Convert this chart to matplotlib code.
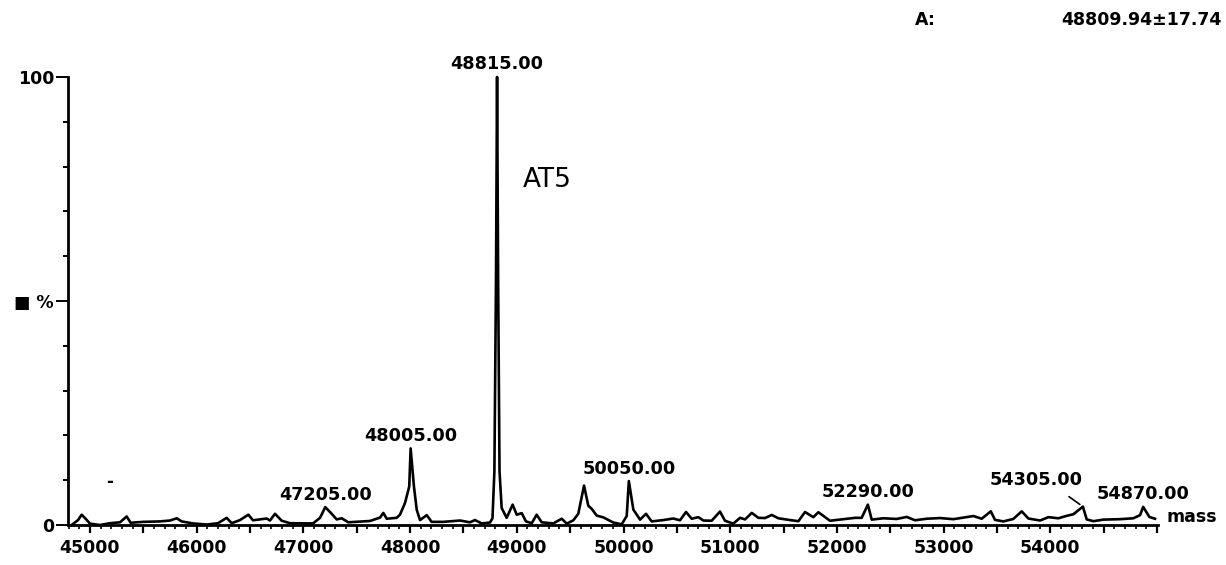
import matplotlib
matplotlib.use("Agg")
import matplotlib.pyplot as plt
from matplotlib.ticker import MultipleLocator, FuncFormatter

# Deconvoluted mass spectrum trace (mass in Da, relative intensity in %)
mass = [
    44828, 44888, 44922, 44963, 45000, 45094, 45187, 45281, 45344, 45381,
    45497, 45656, 45750, 45813, 45859, 45965, 46094, 46200, 46281, 46328,
    46406, 46484, 46528, 46593, 46656, 46687, 46734, 46797, 46874, 47090,
    47156, 47205, 47265, 47312, 47359, 47421, 47530, 47624, 47718, 47749,
    47781, 47874, 47905, 47952, 47992, 48005, 48036, 48062, 48093, 48156,
    48202, 48311, 48468, 48561, 48608, 48671, 48749, 48772, 48790, 48805,
    48815, 48825, 48838, 48858, 48905, 48961, 48999, 49046, 49086, 49140,
    49186, 49233, 49342, 49421, 49468, 49530, 49576, 49630, 49670, 49702,
    49749, 49811, 49904, 49983, 50030, 50050, 50092, 50155, 50211, 50264,
    50373, 50467, 50529, 50586, 50639, 50701, 50748, 50826, 50904, 50951,
    51029, 51092, 51139, 51202, 51264, 51327, 51389, 51451, 51561, 51639,
    51701, 51779, 51826, 51935, 52060, 52170, 52232, 52290, 52326, 52435,
    52560, 52654, 52732, 52841, 52966, 53091, 53185, 53279, 53357, 53442,
    53481, 53560, 53653, 53732, 53794, 53904, 53982, 54075, 54154, 54216,
    54305, 54341, 54403, 54497, 54653, 54778, 54841, 54870, 54928, 54981,
]
intensity = [
    0.0, 1.1, 2.3, 1.3, 0.3, 0.0, 0.4, 0.6, 1.9, 0.5,
    0.7, 0.8, 1.0, 1.5, 0.8, 0.35, 0.1, 0.4, 1.6, 0.4,
    1.1, 2.3, 1.05, 1.25, 1.45, 1.0, 2.5, 0.95, 0.4, 0.35,
    1.6, 4.0, 2.5, 1.25, 1.5, 0.6, 0.75, 0.9, 1.65, 2.7,
    1.4, 1.6, 2.3, 4.9, 8.6, 17.1, 8.6, 3.4, 1.1, 2.2,
    0.7, 0.7, 1.0, 0.6, 1.1, 0.35, 0.55, 1.5, 12.0, 55.0,
    100.0, 55.0, 12.0, 3.8, 1.6, 4.55, 2.3, 2.65, 0.8, 0.4,
    2.3, 0.6, 0.35, 1.4, 0.3, 1.05, 2.5, 8.8, 4.3, 3.6,
    2.1, 1.7, 0.55, 0.15, 2.0, 9.8, 3.45, 1.2, 2.5, 0.8,
    1.1, 1.45, 1.05, 2.9, 1.4, 1.75, 1.0, 0.95, 3.0, 0.95,
    0.3, 1.6, 1.25, 2.7, 1.6, 1.55, 2.25, 1.5, 1.1, 0.85,
    2.9, 1.75, 2.85, 0.95, 1.3, 1.6, 1.6, 4.55, 1.2, 1.5,
    1.35, 1.8, 1.05, 1.4, 1.55, 1.3, 1.65, 2.0, 1.4, 3.05,
    1.15, 0.8, 1.35, 3.05, 1.45, 1.0, 1.75, 1.5, 2.05, 2.4,
    4.1, 1.25, 0.85, 1.2, 1.3, 1.5, 2.2, 4.05, 1.8, 1.4,
]

# Labelled peaks: (mass, label offset in points)
peak_mass = [47205, 48005, 48815, 50050, 52290, 54870]
peak_labels = ["47205.00", "48005.00", "48815.00", "50050.00", "52290.00", "54870.00"]
leader_mass = 54305
leader_label = "54305.00"

x_major = [45000, 46000, 47000, 48000, 49000, 50000, 51000, 52000, 53000, 54000]
y_ticklabels = {0: "0", 50: "\u25a0 %", 100: "100"}

title_left = "A:"
title_right = "48809.94\u00b117.74"
sample_name = "AT5"

W, H = 1226, 565
fig = plt.figure(figsize=(W / 100, H / 100), dpi=100)
fig.patch.set_facecolor("white")

L, R, B, T = 68, 1158, 525, 77
ax = fig.add_axes([L / W, 1 - B / H, (R - L) / W, (B - T) / H])
ax.set_xlim(44794, 55009)
ax.set_ylim(0, 100)

ax.plot(mass, intensity, color="black", lw=1.9, solid_joinstyle="round",
        clip_on=False, zorder=3)

for s in ("top", "right"):
    ax.spines[s].set_visible(False)
for s in ("left", "bottom"):
    ax.spines[s].set_linewidth(2.0)
    ax.spines[s].set_color("black")

bold = dict(family="DejaVu Sans", weight="bold")

# x axis: labels every 1000, long ticks every 500, short ticks every 100
ax.xaxis.set_major_locator(MultipleLocator(500))
ax.xaxis.set_minor_locator(MultipleLocator(100))
ax.xaxis.set_major_formatter(
    FuncFormatter(lambda v, p: f"{int(round(v))}" if int(round(v)) in x_major else ""))
ax.tick_params(axis="x", which="major", direction="out", length=6, width=1.6,
               pad=4, labelsize=12.5)
ax.tick_params(axis="x", which="minor", direction="out", length=3, width=1.2)

# y axis: 0, % and 100 labels with short ticks every 10
ax.set_yticks(list(y_ticklabels.keys()))
ax.set_yticklabels(list(y_ticklabels.values()))
ax.yaxis.set_minor_locator(MultipleLocator(10))
ax.tick_params(axis="y", which="major", direction="out", length=9, width=1.4,
               pad=1, labelsize=12.5)
ax.tick_params(axis="y", which="minor", direction="out", length=3.5, width=1.4)

for lab in ax.get_xticklabels() + ax.get_yticklabels():
    lab.set_fontweight("bold")
    lab.set_family("DejaVu Sans")

# Peak annotations
heights = dict(zip(mass, intensity))
for m, txt in zip(peak_mass, peak_labels):
    ax.annotate(txt, xy=(m, heights[m]), xytext=(0, 9), textcoords="offset points",
                ha="center", va="center", fontsize=12.7, annotation_clip=False, **bold)

hm = heights[leader_mass]
ax.annotate(leader_label, xy=(leader_mass, hm), xytext=(-34, 19.5),
            textcoords="offset points", ha="center", va="center",
            fontsize=12.7, annotation_clip=False, **bold)
ax.annotate("", xy=(leader_mass, hm), xytext=(-10, 7.2), textcoords="offset points",
            arrowprops=dict(arrowstyle="-", color="black", lw=1.2,
                            shrinkA=0, shrinkB=2.7))

ax.text(49058, 77, sample_name, ha="left", va="center", fontsize=19,
        family="DejaVu Sans")
ax.text(45000 + 9.372 * (110 - 90), (B - 482) / 4.48, "-", ha="center",
        va="center", fontsize=12, **bold)

fig.text(1167 / W, 1 - 517 / H, "mass", ha="left", va="center", fontsize=12.5, **bold)
fig.text(915 / W, 1 - 20 / H, title_left, ha="left", va="center", fontsize=12.5, **bold)
fig.text(1222 / W, 1 - 20 / H, title_right, ha="right", va="center", fontsize=12.5, **bold)

fig.savefig("out.png", dpi=100, facecolor="white")
